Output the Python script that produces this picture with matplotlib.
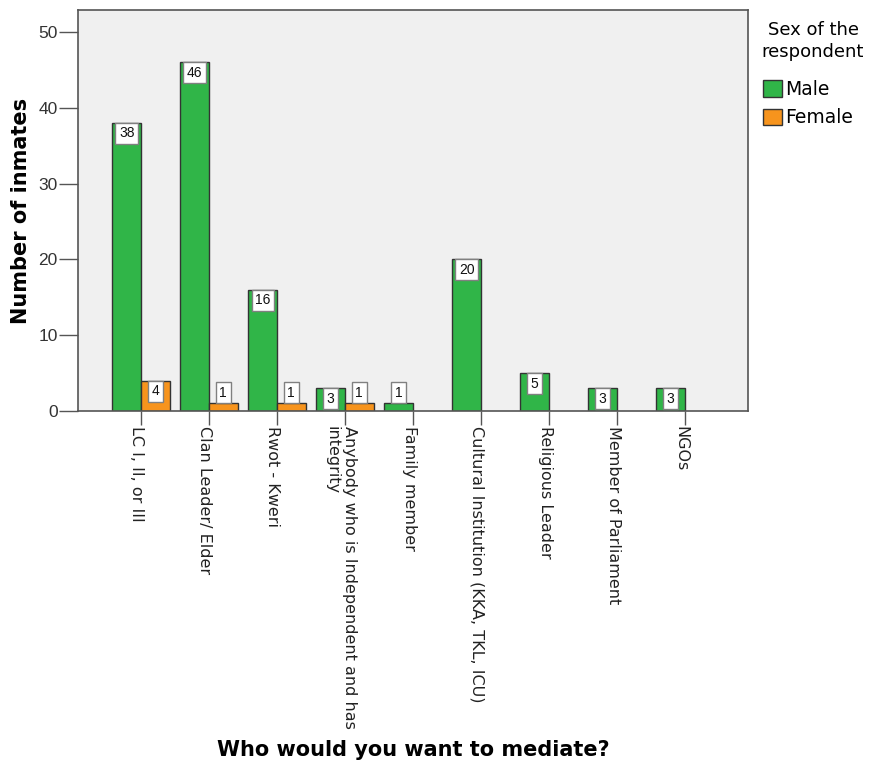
import numpy as np
import matplotlib
matplotlib.use("Agg")
import matplotlib.pyplot as plt
import matplotlib.transforms as mtransforms
from matplotlib.patches import Patch

categories = [
    "LC I, II, or III",
    "Clan Leader/ Elder",
    "Rwot - Kweri",
    "Anybody who is Independent and has\nintegrity",
    "Family member",
    "Cultural Institution (KKA, TKL, ICU)",
    "Religious Leader",
    "Member of Parliament",
    "NGOs",
]
male = [38, 46, 16, 3, 1, 20, 5, 3, 3]
female = [4, 1, 1, 1, 0, 0, 0, 0, 0]

GREEN = "#30b548"
ORANGE = "#f7941d"
EDGE = "#333333"
FRAME = "#555555"
NUMFONT = "Liberation Sans"

fig = plt.figure(figsize=(8.75, 7.63), dpi=100)
ax = fig.add_axes([78 / 875, 1 - 411 / 763, 670 / 875, 401 / 763])
ax.set_facecolor("#f0f0f0")

x = np.arange(len(categories))
w = 0.42
mbars = ax.bar(x - w / 2, male, w, color=GREEN, edgecolor=EDGE, linewidth=1)
fbars = ax.bar(x + w / 2, female, w, color=ORANGE, edgecolor=EDGE, linewidth=1)
for b in list(mbars) + list(fbars):
    if b.get_height() == 0:
        b.set_visible(False)

# value boxes: inside the top of the bar when it fits, otherwise on top of it
def add_label(xc, v):
    if v <= 0:
        return
    box = dict(boxstyle="square,pad=0.25", fc="white", ec="#808080", lw=1)
    kw = dict(textcoords="offset points", ha="center", fontsize=10,
              family=NUMFONT, bbox=box, color="#111111")
    if v >= 3:
        ax.annotate(str(v), (xc, v), xytext=(0, -2.5), va="top", **kw)
    else:
        ax.annotate(str(v), (xc, v), xytext=(0, 2.5), va="bottom", **kw)

for i in range(len(categories)):
    add_label(x[i] - w / 2, male[i])
    add_label(x[i] + w / 2, female[i])

ax.set_xlim(-0.926, 8.926)
ax.set_ylim(0, 52.9)
ax.set_yticks([0, 10, 20, 30, 40, 50])
ax.set_xticks(x)
ax.set_xticklabels(categories, rotation=-90, ha="center", va="top",
                   multialignment="left", fontsize=11.5, color="#222222")
ax.tick_params(axis="y", length=13.5, width=1, color=FRAME, pad=1,
               labelsize=12.5, labelcolor="#333333")
ax.tick_params(axis="x", length=10, width=1, color=FRAME, pad=1)
for lbl in ax.get_yticklabels():
    lbl.set_family(NUMFONT)

shift = mtransforms.ScaledTranslation(-4 / 100, 0, fig.dpi_scale_trans)
for lbl in ax.get_xticklabels():
    lbl.set_transform(lbl.get_transform() + shift)

for s in ax.spines.values():
    s.set_color(FRAME)
    s.set_linewidth(1.2)

ax.set_ylabel("Number of inmates", fontsize=15, fontweight="bold", va="center")
ax.yaxis.set_label_coords(-0.085, 0.5)
ax.set_xlabel("Who would you want to mediate?", fontsize=15, fontweight="bold", va="center")
ax.xaxis.set_label_coords(0.5, -0.845)

# legend: title as its own text, entries below it
fig.text(813 / 875, 1 - 41 / 763, "Sex of the\nrespondent", ha="center", va="center",
         multialignment="center", fontsize=13, linespacing=1.3)
handles = [Patch(facecolor=GREEN, edgecolor=EDGE), Patch(facecolor=ORANGE, edgecolor=EDGE)]
fig.legend(handles, ["Male", "Female"], loc="upper left",
           bbox_to_anchor=(763 / 875, 1 - 80 / 763),
           frameon=False, fontsize=13.5,
           handlelength=1.0, handleheight=1.0, handletextpad=0.2,
           labelspacing=0.5, borderpad=0, borderaxespad=0)

fig.savefig("out.png", dpi=100)
